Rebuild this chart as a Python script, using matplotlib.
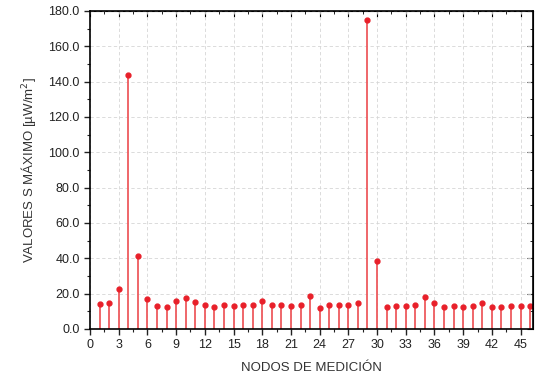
import numpy as np
import matplotlib
matplotlib.use("Agg")
import matplotlib.pyplot as plt
from matplotlib.ticker import MultipleLocator, FormatStrFormatter

plt.rcParams['font.family'] = ['Liberation Sans', 'DejaVu Sans']

nodos = np.arange(1, 47)
valores = [14.1, 14.5, 22.4, 143.6, 41.3, 16.8, 13.0, 12.7, 15.8, 17.4,
           15.3, 13.3, 12.7, 13.3, 13.0, 13.6, 13.6, 15.6, 13.3, 13.6,
           13.0, 13.3, 18.7, 11.7, 13.4, 13.4, 13.4, 14.9, 174.9, 38.5,
           12.6, 13.2, 13.0, 13.4, 18.3, 14.5, 12.6, 13.0, 12.4, 13.0,
           14.5, 12.6, 12.6, 13.0, 13.0, 13.0]

fig = plt.figure(figsize=(5.37, 3.87), dpi=100)
ax = fig.add_axes([0.1676, 0.150, 0.825, 0.8216])

ml, sl, bl = ax.stem(nodos, valores, basefmt=' ')
plt.setp(sl, color='#ee5a5e', linewidth=1.3)
plt.setp(ml, color='#e8202a', markersize=3.5)

ax.set_xlim(0, 46.3)
ax.set_ylim(0, 180)
ax.xaxis.set_major_locator(MultipleLocator(3))
ax.xaxis.set_minor_locator(MultipleLocator(1.5))
ax.yaxis.set_major_locator(MultipleLocator(20))
ax.yaxis.set_minor_locator(MultipleLocator(10))
ax.yaxis.set_major_formatter(FormatStrFormatter('%.1f'))

ax.grid(True, which='major', color='#d6d6d6', linestyle=(0, (4, 3)), linewidth=0.6)
ax.set_axisbelow(True)

ax.tick_params(which='both', direction='out', labelsize=9, colors='#222222')
ax.tick_params(which='major', length=4, width=1)
ax.tick_params(which='minor', length=2.5, width=0.8)
for s in ax.spines.values():
    s.set_linewidth(1.2)

# mirrored ticks pointing inward on top and right
top = ax.secondary_xaxis('top')
top.xaxis.set_major_locator(MultipleLocator(3))
top.xaxis.set_minor_locator(MultipleLocator(1.5))
top.tick_params(which='both', direction='in', labeltop=False)
top.tick_params(which='major', length=4)
top.tick_params(which='minor', length=2.5)
right = ax.secondary_yaxis('right')
right.yaxis.set_major_locator(MultipleLocator(20))
right.yaxis.set_minor_locator(MultipleLocator(10))
right.tick_params(which='both', direction='in', labelright=False)
right.tick_params(which='major', length=4)
right.tick_params(which='minor', length=2.5)

ax.set_xlabel('NODOS DE MEDICIÓN', fontsize=9.5, color='#333333', labelpad=8)
ax.set_ylabel('VALORES S MÁXIMO [µW/m$^2$]', fontsize=9.5, color='#333333', labelpad=7)

fig.savefig('out.png', dpi=100)
